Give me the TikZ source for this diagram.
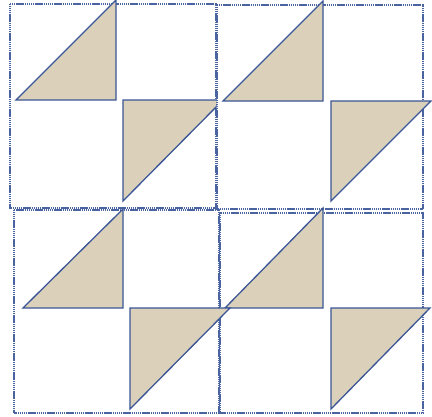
\documentclass[tikz,border=0pt]{standalone}
\usepackage{xcolor}
\usepackage{tikz}

\definecolor{linen}{RGB}{219,208,186}
\definecolor{seam}{RGB}{58,86,150}
\definecolor{stitch}{RGB}{74,100,162}

\begin{document}
\begin{tikzpicture}[
    x=1pt, y=-1pt,
    frame/.style={draw=stitch, fill=white, line width=1.1pt,
                  dash pattern=on 1.3pt off 0.6pt},
    patch/.style={draw=seam, fill=linen, line width=1.3pt, line join=miter},
]
\useasboundingbox (0,0) rectangle (432,416);

% Top left block
\draw[frame] (10,4) rectangle (216,208);
\draw[patch] (16,100) -- (116,0) -- (116,100) -- cycle;
\draw[patch] (123,100) -- (223,100) -- (123,201) -- cycle;

% Top right block
\draw[frame] (217,5) rectangle (423,209);
\draw[patch] (223,101) -- (323,1) -- (323,101) -- cycle;
\draw[patch] (331,101) -- (431,101) -- (331,201) -- cycle;

% Bottom right block
\draw[frame] (220,213) rectangle (423,413);
\draw[patch] (225,308) -- (323,208) -- (323,308) -- cycle;
\draw[patch] (331,308) -- (430,308) -- (331,409) -- cycle;

% Bottom left block
\draw[frame] (14,210) rectangle (219,413);
\draw[patch] (23,308) -- (123,209) -- (123,308) -- cycle;
\draw[patch] (130,308) -- (230,308) -- (130,409) -- cycle;

\end{tikzpicture}
\end{document}
